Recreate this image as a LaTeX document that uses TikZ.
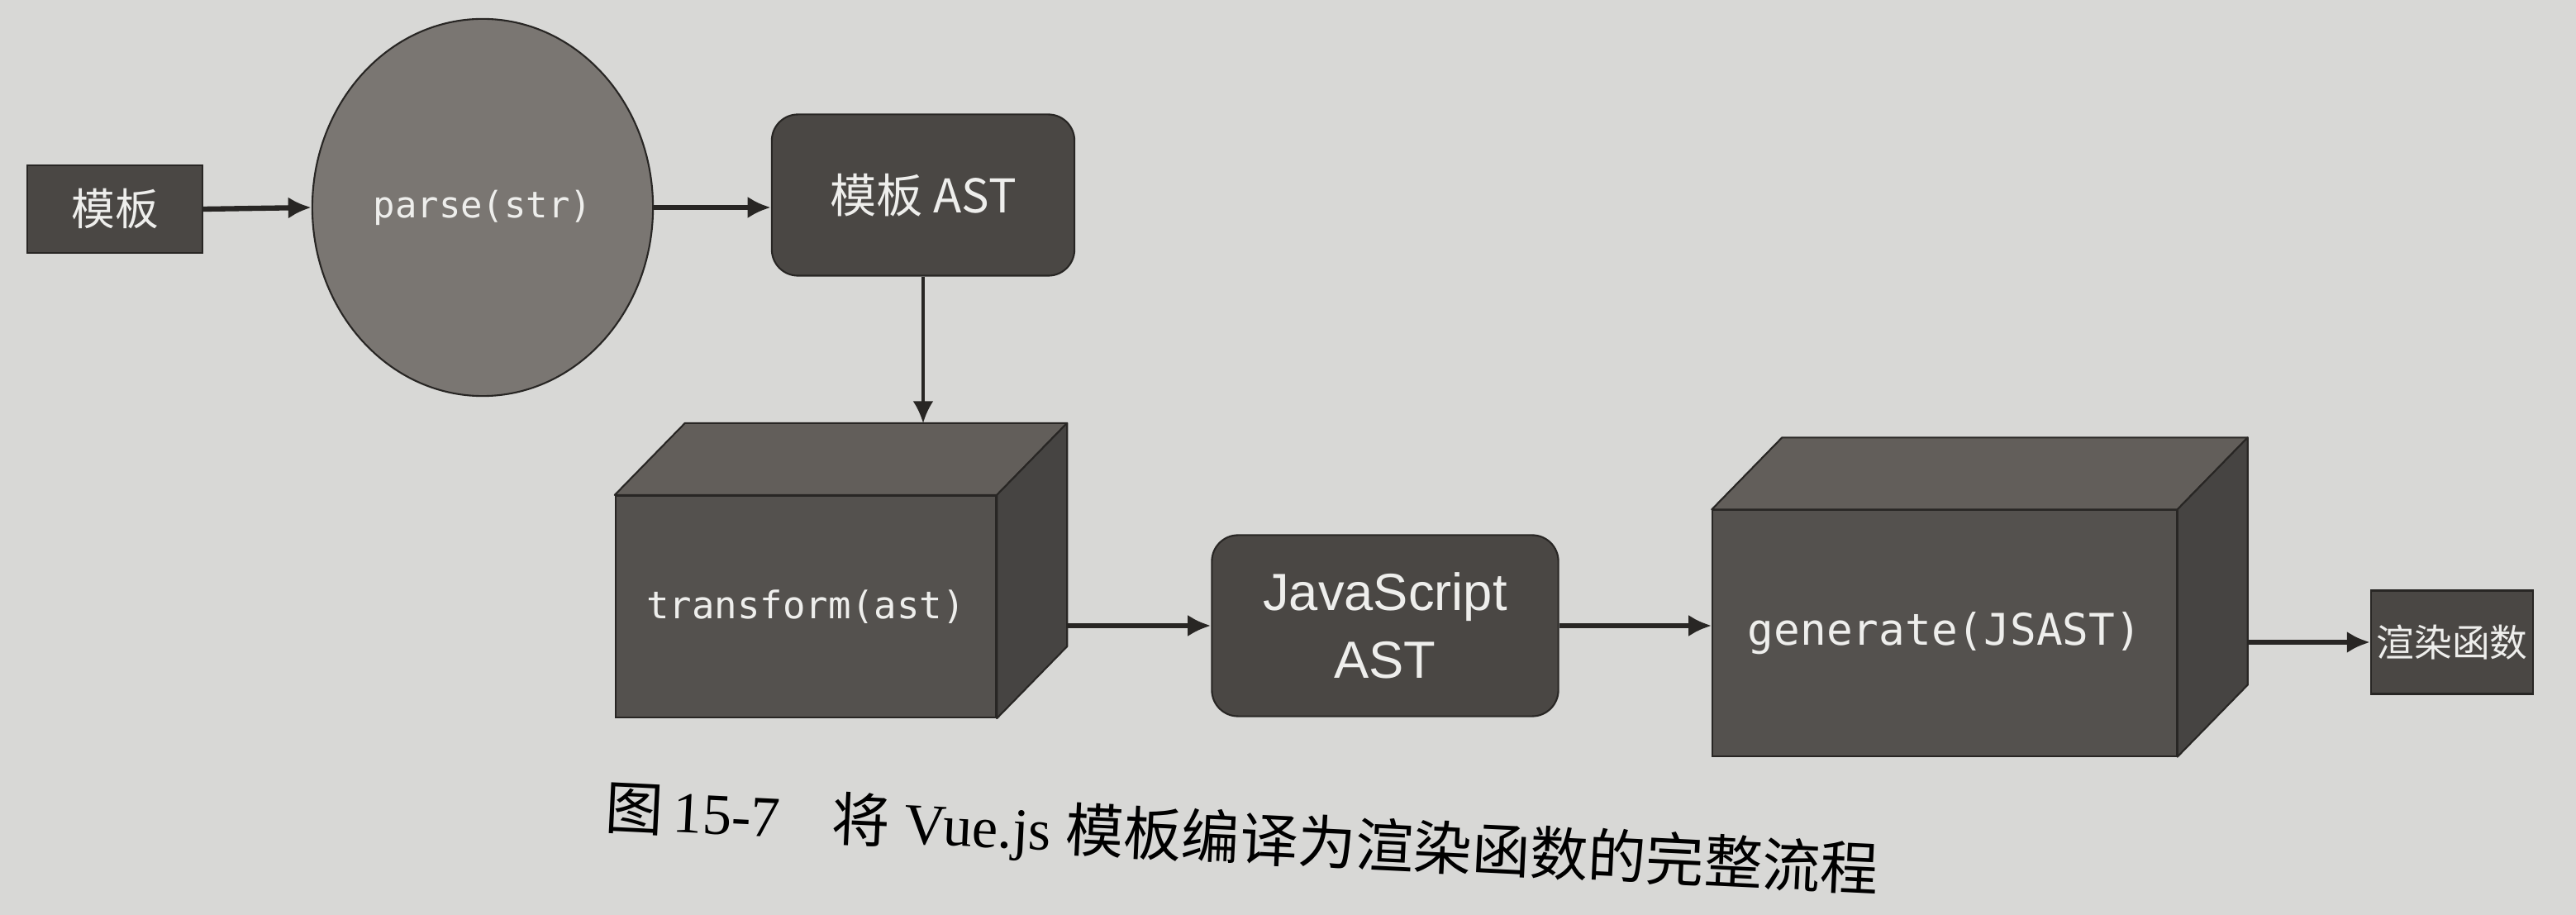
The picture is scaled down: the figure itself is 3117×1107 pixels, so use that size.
\documentclass[tikz,border=0pt]{standalone}
\usepackage{fontspec}
\setmainfont{Liberation Serif}
\setsansfont{Liberation Sans}
\setmonofont{DejaVu Sans Mono}
\newfontfamily\cjk{Noto Sans CJK SC}
\usetikzlibrary{calc}
\usetikzlibrary{arrows.meta}
\usetikzlibrary{shapes.geometric}
\definecolor{paper}{RGB}{216,216,214}
\definecolor{boxdark}{RGB}{74,71,68}
\definecolor{ellgray}{RGB}{122,118,114}
\definecolor{cubefront}{RGB}{84,81,78}
\definecolor{cubetop}{RGB}{98,94,90}
\definecolor{cubeside}{RGB}{70,68,66}
\definecolor{inkline}{RGB}{40,38,36}
\definecolor{labelwhite}{RGB}{238,238,236}
\newcommand{\fs}[1]{\fontsize{#1}{#1}\selectfont}
\newcommand{\cubefaces}[1]{%
  \filldraw[face,fill=cubetop] (#1.north west) -- ++(85,-87)
    -- ($(#1.north east)+(85,-87)$) -- (#1.north east) -- cycle;
  \filldraw[face,fill=cubeside] (#1.north east) -- ++(85,-87)
    -- ($(#1.south east)+(85,-87)$) -- (#1.south east) -- cycle;
  \coordinate (#1-back) at ($(#1.north west)+(85,-87)$);
  \coordinate (#1-side) at ($(#1.east)+(85,0)$);
}
\tikzset{
  blk/.style={draw=inkline,line width=0.6pt,fill=boxdark,text=labelwhite,inner sep=0pt},
  rbox/.style={blk,rounded corners=9pt},
  face/.style={draw=inkline,line width=0.6pt,line join=round},
  arr/.style={-{Latex[length=8pt,width=7.5pt]},line width=1.8pt,draw=inkline},
  thinarr/.style={-{Latex[length=7.5pt,width=7pt]},line width=0.9pt,draw=inkline}
}

\begin{document}
\begin{tikzpicture}[x=0.01cm,y=-0.01cm]
    \fill[paper] (0,0) rectangle (3117,1107);
    \node[blk,minimum width=2.12cm,minimum height=1.06cm] (tpl) at (139,253)
      {\cjk\fs{15pt}模板};
    \node[blk,ellipse,fill=ellgray,minimum width=4.12cm,minimum height=4.56cm] (ell) at (584,251)
      {\ttfamily\fs{12.5pt}parse(str)};
    \node[rbox,minimum width=3.66cm,minimum height=1.95cm] (ast) at (1117,236)
      {\cjk\fs{16pt}模板 AST};
    \node[blk,fill=cubefront,minimum width=4.6cm,minimum height=2.68cm] (tf) at (975,734)
      {\ttfamily\fs{13pt}transform(ast)};
    \cubefaces{tf}
    \node[rbox,minimum width=4.19cm,minimum height=2.19cm,align=center,
      font=\sffamily\fontsize{18pt}{23.5pt}\selectfont] (js) at (1676,757)
      {JavaScript\\AST};
    \node[blk,fill=cubefront,minimum width=5.61cm,minimum height=2.97cm] (gen) at (2353,766)
      {\ttfamily\fs{15pt}generate(JSAST)};
    \cubefaces{gen}
    \node[blk,minimum width=1.96cm,minimum height=1.25cm] (out) at (2967,777)
      {\cjk\fs{13pt}渲染函数};
    \draw[arr] (tpl.east) -- (ell.west);
    \draw[arr] (ell.east) -- (ast.west |- ell.east);
    \draw[thinarr] (ast.south) -- (ast.south |- tf-back);
    \draw[arr] (tf-side |- js.west) -- (js.west);
    \draw[arr] (js.east) -- (gen.west |- js.east);
    \draw[arr] (gen-side |- out.west) -- (out.west);
    \node[rotate=-2.8,text=black] (cap) at (1503,1018)
      {\fs{20pt}{\cjk 图}\,15-7\hspace{0.9em}{\cjk 将} Vue.js {\cjk 模板编译为渲染函数的完整流程}};
\end{tikzpicture}
\end{document}
